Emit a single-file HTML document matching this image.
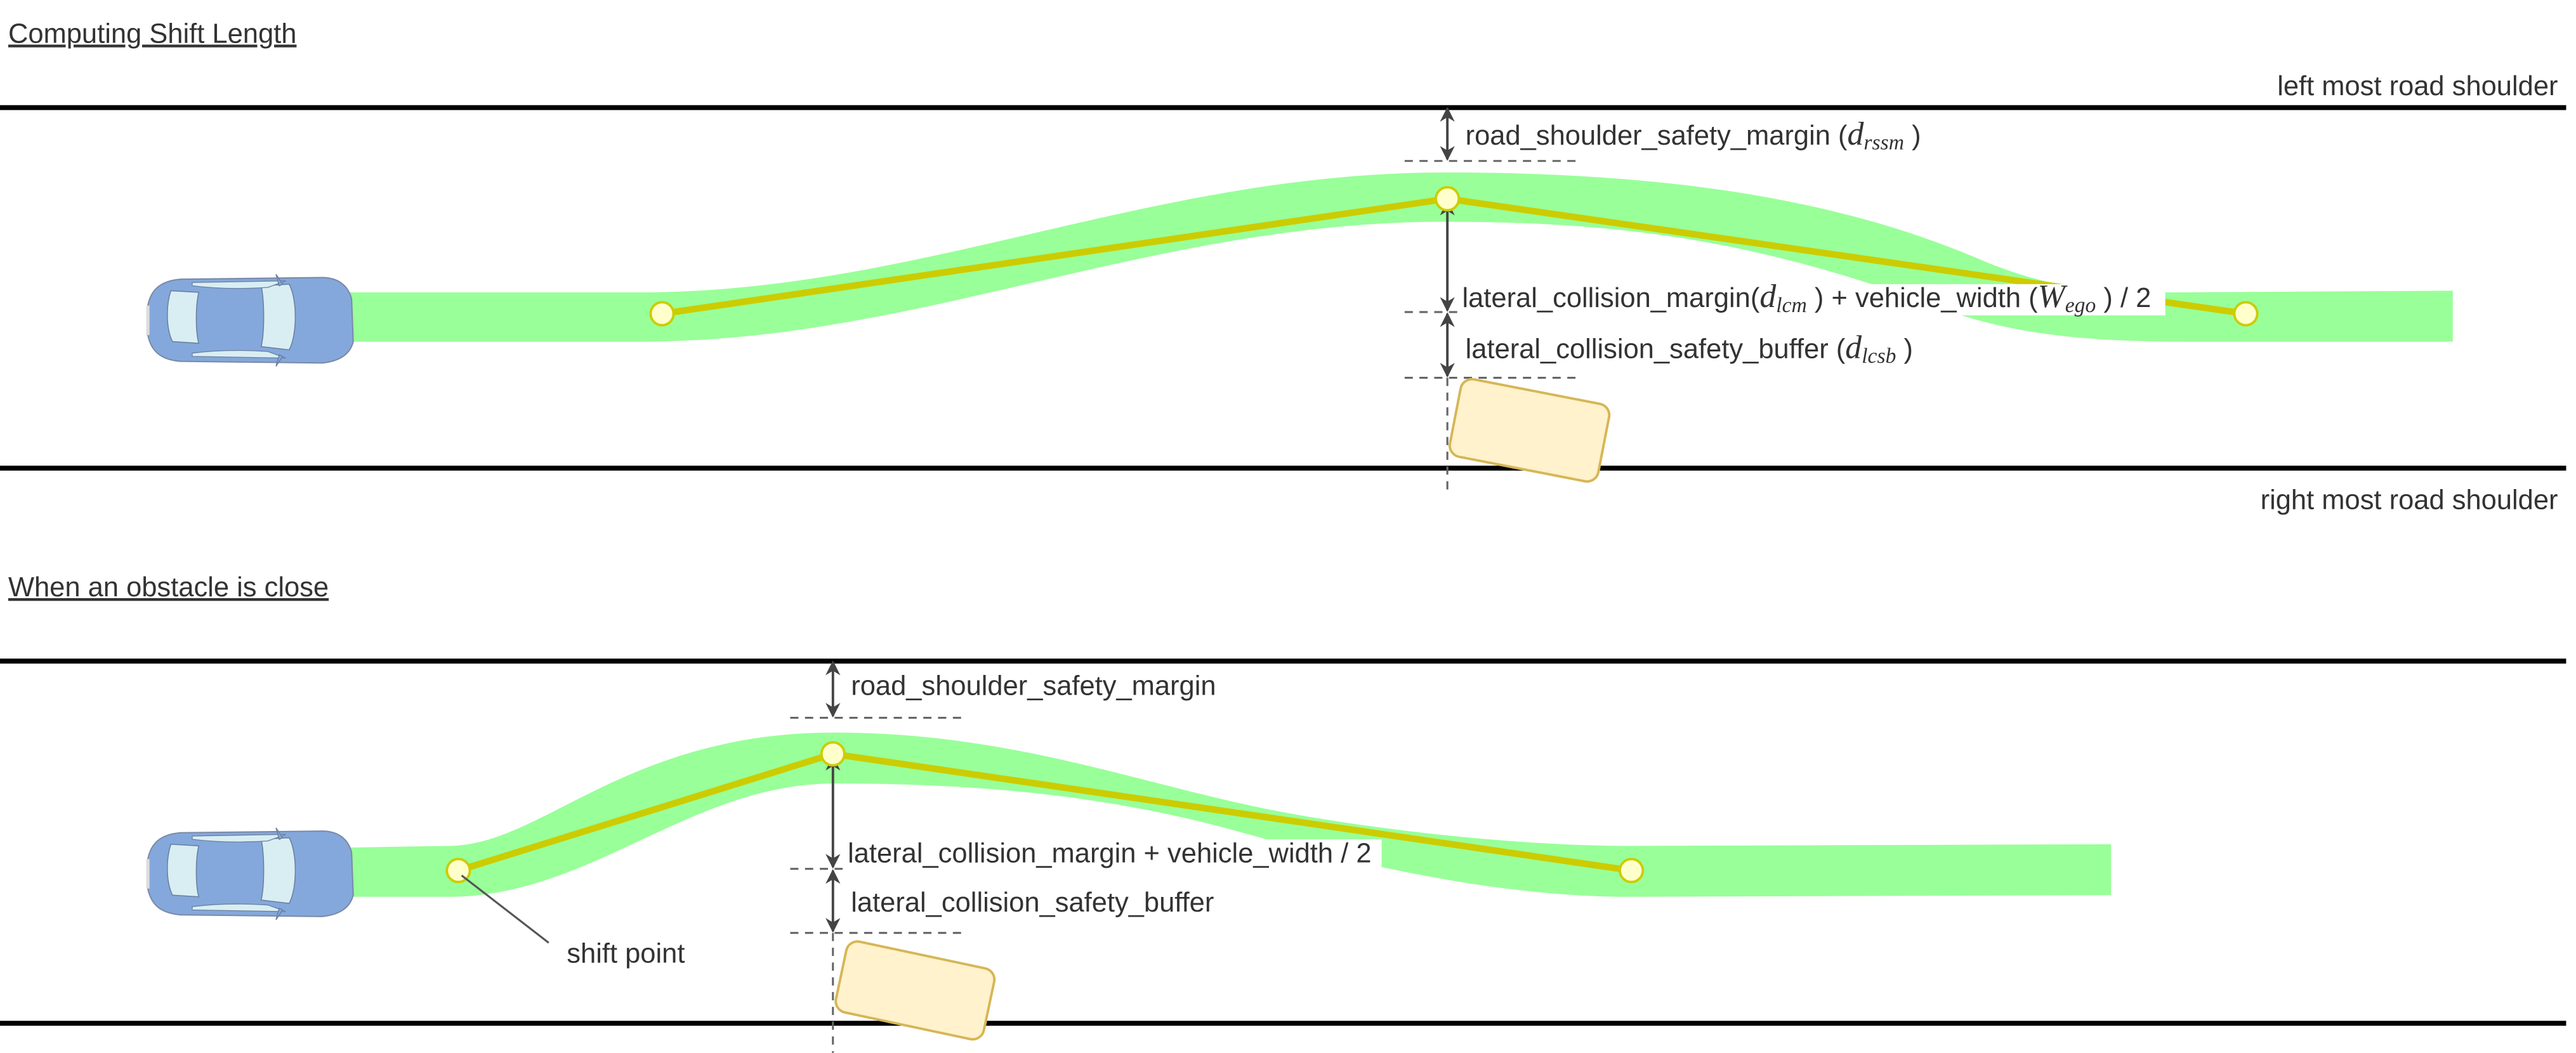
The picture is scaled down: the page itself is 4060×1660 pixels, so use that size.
<!DOCTYPE html>
<html><head><meta charset="utf-8"><style>
html,body{margin:0;padding:0;background:#fff;}
svg{display:block;}
text{font-family:"Liberation Sans",sans-serif;fill:#333;}
.m{font-family:"Liberation Serif",serif;font-style:italic;}
</style></head><body>
<svg width="4060" height="1660" viewBox="0 0 1568 641.1" xmlns="http://www.w3.org/2000/svg">
<defs>
<marker id="ah" viewBox="0 0 10 10" refX="9" refY="5" markerWidth="10" markerHeight="9" markerUnits="userSpaceOnUse" orient="auto-start-reverse">
<path d="M0,0 L10,5 L0,10 L3,5 Z" fill="#444"/>
</marker>
<g id="car">
<path d="M2,18 C4,8 10,3 22,2 L108,1 C118,1 124,6 126,14 L127,40 C125,48 118,52 108,53 L22,52 C10,51 4,46 2,36 Z" fill="#84a8dc" stroke="#7a8aa8" stroke-width="0.8"/>
<path d="M16,9 L33,10 C31,18 31,34 33,41 L17,40 C13,32 13,18 16,9 Z" fill="#d8eef2" stroke="#6a7fa0" stroke-width="0.6"/>
<path d="M71,6 L88,5 C93,14 93,36 88,45 L71,43 C73,34 73,16 71,6 Z" fill="#d8eef2" stroke="#6a7fa0" stroke-width="0.6"/>
<path d="M29,4 L86,3 L75,7 C60,8 45,8 29,6 Z" fill="#d8eef2" stroke="#6a7fa0" stroke-width="0.5"/>
<path d="M29,49 L86,50 L75,46 C60,45 45,45 29,47 Z" fill="#d8eef2" stroke="#6a7fa0" stroke-width="0.5"/>
<path d="M80,-1 L84,5 L82,6 Z M80,55 L84,49 L82,48 Z" fill="#84a8dc" stroke="#6a7fa0" stroke-width="0.6"/>
<rect x="1" y="18" width="2" height="18" fill="#ddd"/>
</g>
</defs>

<!-- Section 1 -->
<text x="5" y="26" font-size="16.8" text-decoration="underline">Computing Shift Length</text>
<line x1="0" y1="65.5" x2="1562" y2="65.5" stroke="#000" stroke-width="3"/>
<line x1="0" y1="285" x2="1562" y2="285" stroke="#000" stroke-width="3"/>
<text x="1557" y="58" font-size="16.8" text-anchor="end">left most road shoulder</text>
<text x="1557" y="310" font-size="16.8" text-anchor="end">right most road shoulder</text>

<path d="M213,178 L390,178 C560,178 700,105 880,105 C1030,105 1130,125 1210,160 C1250,176 1280,178 1320,178 L1493,177 L1493,208 L1330,208 C1250,208 1210,200 1160,180 C1060,145 980,135 880,135 C700,135 560,208 390,208 L213,208 Z" fill="#99ff99"/>
<use href="#car" x="88" y="168"/>

<polyline points="403,191 881,121 1367,191" fill="none" stroke="#cccc00" stroke-width="4"/>

<g stroke="#666" stroke-width="1.2" stroke-dasharray="5,4" fill="none">
<line x1="855" y1="98" x2="960" y2="98"/>
<line x1="855" y1="190" x2="960" y2="190"/>
<line x1="855" y1="230" x2="962" y2="230"/>
<line x1="881" y1="230" x2="881" y2="300"/>
</g>
<g stroke="#444" stroke-width="1.5" marker-start="url(#ah)" marker-end="url(#ah)">
<line x1="881" y1="66" x2="881" y2="97"/>
<line x1="881" y1="123" x2="881" y2="189"/>
<line x1="881" y1="191" x2="881" y2="229"/>
</g>
<circle cx="403" cy="191" r="7" fill="#ffffcc" stroke="#cccc00" stroke-width="1.5"/>
<circle cx="881" cy="121" r="7" fill="#ffffcc" stroke="#cccc00" stroke-width="1.5"/>
<circle cx="1367" cy="191" r="7" fill="#ffffcc" stroke="#cccc00" stroke-width="1.5"/>

<rect x="888" y="173" width="430" height="19" fill="#fff"/>
<text x="892" y="88" font-size="16.8">road_shoulder_safety_margin (<tspan class="m" font-size="20">d</tspan><tspan class="m" font-size="13" dy="3">rssm</tspan><tspan dy="-3"> )</tspan></text>
<text x="890" y="187" font-size="16.8">lateral_collision_margin(<tspan class="m" font-size="20">d</tspan><tspan class="m" font-size="13" dy="3">lcm</tspan><tspan dy="-3"> ) + vehicle_width (</tspan><tspan class="m" font-size="20">W</tspan><tspan class="m" font-size="13" dy="3">ego</tspan><tspan dy="-3"> ) / 2</tspan></text>
<text x="892" y="218" font-size="16.8">lateral_collision_safety_buffer (<tspan class="m" font-size="20">d</tspan><tspan class="m" font-size="13" dy="3">lcsb</tspan><tspan dy="-3"> )</tspan></text>

<g transform="translate(931,262) rotate(11)">
<rect x="-46" y="-24" width="92" height="48" rx="7" fill="#fff2cc" stroke="#d6b656" stroke-width="1.5"/>
</g>

<!-- Section 2 -->
<text x="5" y="363" font-size="16.8" text-decoration="underline">When an obstacle is close </text>
<line x1="0" y1="402.5" x2="1562" y2="402.5" stroke="#000" stroke-width="3"/>
<line x1="0" y1="623" x2="1562" y2="623" stroke="#000" stroke-width="3"/>

<path d="M213,516 L273,515 C330,515 380,446 508,446 C620,446 700,480 784,495 C850,507 930,515 991,515 L1285,514 L1285,545 L991,546 C920,546 840,530 760,508 C680,485 600,477 508,477 C420,477 360,546 273,546 L213,546 Z" fill="#99ff99"/>
<use href="#car" x="88" y="505"/>

<polyline points="279,530 507,459 993,530" fill="none" stroke="#cccc00" stroke-width="4"/>

<g stroke="#666" stroke-width="1.2" stroke-dasharray="5,4" fill="none">
<line x1="481" y1="437" x2="585" y2="437"/>
<line x1="481" y1="529" x2="585" y2="529"/>
<line x1="481" y1="568" x2="585" y2="568"/>
<line x1="507" y1="568" x2="507" y2="641"/>
</g>
<g stroke="#444" stroke-width="1.5" marker-start="url(#ah)" marker-end="url(#ah)">
<line x1="507" y1="403" x2="507" y2="436"/>
<line x1="507" y1="461" x2="507" y2="528"/>
<line x1="507" y1="530" x2="507" y2="567"/>
</g>
<circle cx="279" cy="530" r="7" fill="#ffffcc" stroke="#cccc00" stroke-width="1.5"/>
<circle cx="507" cy="459" r="7" fill="#ffffcc" stroke="#cccc00" stroke-width="1.5"/>
<circle cx="993" cy="530" r="7" fill="#ffffcc" stroke="#cccc00" stroke-width="1.5"/>

<line x1="281" y1="533" x2="334" y2="574" stroke="#555" stroke-width="1.2"/>
<text x="345" y="586" font-size="16.8">shift point</text>

<rect x="513" y="511" width="328" height="20" fill="#fff"/>
<text x="518" y="423" font-size="16.8">road_shoulder_safety_margin</text>
<text x="516" y="525" font-size="16.8">lateral_collision_margin + vehicle_width / 2</text>
<text x="518" y="555" font-size="16.8">lateral_collision_safety_buffer</text>

<g transform="translate(557,603) rotate(12)">
<rect x="-46" y="-22" width="92" height="44" rx="7" fill="#fff2cc" stroke="#d6b656" stroke-width="1.5"/>
</g>
</svg>
</body></html>
